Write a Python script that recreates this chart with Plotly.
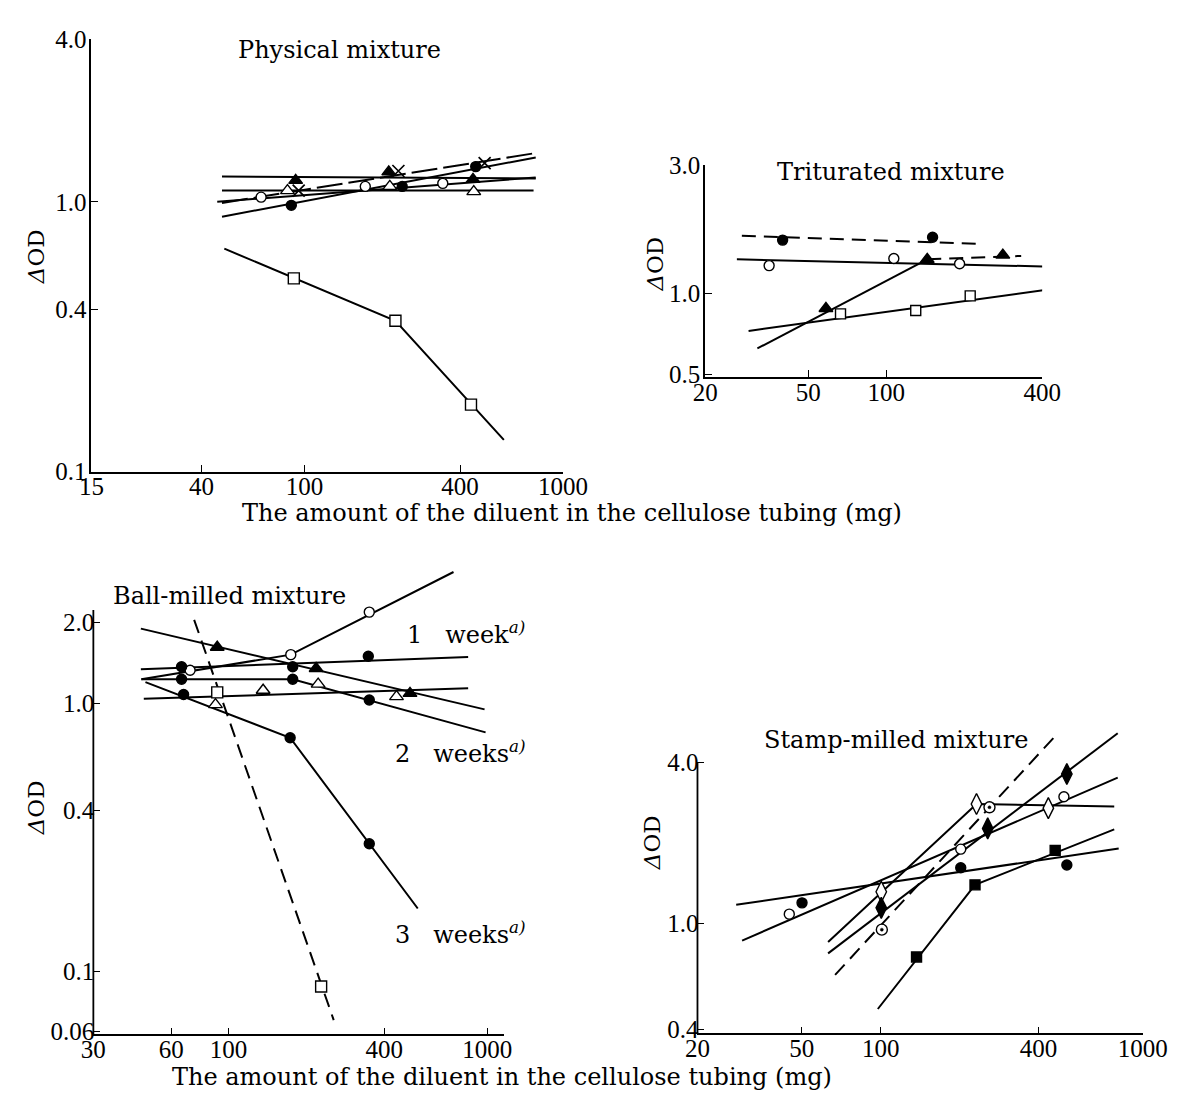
import math
import plotly.graph_objects as go

W, H = 1193, 1106
FONT = "DejaVu Serif"
TICKFONT = "Liberation Serif"

# ---------------- Physical mixture (top-left) ----------------
phys_tri_f_x = [92.5, 212, 449];  phys_tri_f_y = [1.20, 1.29, 1.21]
phys_tri_f_lx = [48, 785];         phys_tri_f_ly = [1.24, 1.22]
phys_tri_o_x = [86, 214, 452];    phys_tri_o_y = [1.10, 1.14, 1.09]
phys_tri_o_lx = [48, 770];         phys_tri_o_ly = [1.10, 1.10]
phys_cross_x = [95, 231, 498];    phys_cross_y = [1.10, 1.30, 1.39]
phys_cross_lx = [48, 800];         phys_cross_ly = [0.99, 1.52]
phys_circ_o_x = [68, 172, 343];   phys_circ_o_y = [1.04, 1.14, 1.17]
phys_circ_o_lx = [46, 785];        phys_circ_o_ly = [1.00, 1.23]
phys_circ_f_x = [89, 239, 460];   phys_circ_f_y = [0.97, 1.14, 1.35]
phys_circ_f_lx = [48, 785];        phys_circ_f_ly = [0.88, 1.46]
phys_sq_x = [91, 225, 441];       phys_sq_y = [0.52, 0.362, 0.177]
phys_sq_lx = [49, 225, 591];      phys_sq_ly = [0.67, 0.362, 0.131]

# ---------------- Triturated mixture (top-right) ----------------
trit_circ_f_x = [39.8, 151];      trit_circ_f_y = [1.58, 1.62]
trit_circ_f_lx = [27.7, 231];     trit_circ_f_ly = [1.64, 1.53]
trit_circ_o_x = [35.3, 107, 192]; trit_circ_o_y = [1.27, 1.35, 1.29]
trit_circ_o_lx = [26.5, 415];     trit_circ_o_ly = [1.34, 1.26]
trit_tri_f_x = [58.5, 144, 282];  trit_tri_f_y = [0.88, 1.34, 1.39]
trit_tri_f_lx = [31.8, 144];      trit_tri_f_ly = [0.625, 1.34]
trit_tri_f_dlx = [144, 332];      trit_tri_f_dly = [1.34, 1.38]
trit_sq_x = [66.6, 130, 211];     trit_sq_y = [0.84, 0.865, 0.98]
trit_sq_lx = [29.4, 408];         trit_sq_ly = [0.726, 1.03]

# ---------------- Ball-milled mixture (bottom-left) ----------------
ball_tri_f_x = [90.4, 218, 503];  ball_tri_f_y = [1.62, 1.35, 1.09]
ball_tri_f_lx = [45.8, 977];      ball_tri_f_ly = [1.90, 0.95]
ball_circ_o_x = [71, 174, 350];   ball_circ_o_y = [1.33, 1.52, 2.19]
ball_circ_o_lx = [46, 174, 741];  ball_circ_o_ly = [1.23, 1.52, 3.09]
ball_w1_x = [65.8, 177, 347];     ball_w1_y = [1.37, 1.37, 1.50]
ball_w1_lx = [45.8, 844];         ball_w1_ly = [1.34, 1.49]
ball_w2_x = [65.8, 177, 350];     ball_w2_y = [1.23, 1.23, 1.03]
ball_w2_lx = [46, 177, 986];      ball_w2_ly = [1.23, 1.23, 0.78]
ball_tri_o_x = [89, 136, 222, 446]; ball_tri_o_y = [0.99, 1.12, 1.18, 1.06]
ball_tri_o_lx = [47, 844];        ball_tri_o_ly = [1.04, 1.14]
ball_w3_x = [67, 173, 350];       ball_w3_y = [1.08, 0.745, 0.30]
ball_w3_lx = [47.7, 173, 539];    ball_w3_ly = [1.20, 0.745, 0.172]
ball_sq_x = [90.4, 228];          ball_sq_y = [1.10, 0.088]
ball_sq_lx = [73.6, 255];         ball_sq_ly = [2.05, 0.066]

# ---------------- Stamp-milled mixture (bottom-right) ----------------
stamp_circ_o_x = [44.8, 202, 500];  stamp_circ_o_y = [1.08, 1.89, 2.97]
stamp_circ_o_lx = [29.6, 802];      stamp_circ_o_ly = [0.86, 3.5]
stamp_circ_f_x = [50.1, 202, 513];  stamp_circ_f_y = [1.19, 1.61, 1.65]
stamp_circ_f_lx = [28.1, 809];      stamp_circ_f_ly = [1.17, 1.90]
stamp_dia_o_x = [100.5, 232, 436];  stamp_dia_o_y = [1.31, 2.79, 2.69]
stamp_dia_o_lx = [63, 232, 778];    stamp_dia_o_ly = [0.85, 2.79, 2.73]
stamp_dia_f_x = [100.5, 256, 513];  stamp_dia_f_y = [1.14, 2.26, 3.61]
stamp_dia_f_lx = [63, 802];         stamp_dia_f_ly = [0.77, 5.13]
stamp_dot_x = [101, 260];           stamp_dot_y = [0.945, 2.71]
stamp_dot_lx = [67, 468];           stamp_dot_ly = [0.64, 5.06]
stamp_sq_f_x = [137, 229, 463];     stamp_sq_f_y = [0.747, 1.39, 1.87]
stamp_sq_f_lx = [97.5, 229, 778];   stamp_sq_f_ly = [0.477, 1.39, 2.24]

# ---------------- tick labels ----------------
tl_xticks = [15, 40, 100, 400, 1000]
tl_yticks = [0.1, 0.4, 1.0, 4.0]
tr_xticks = [20, 50, 100, 400]
tr_yticks = [0.5, 1.0, 3.0]
bl_xticks = [30, 60, 100, 400, 1000]
bl_yticks = [0.06, 0.1, 0.4, 1.0, 2.0]
br_xticks = [20, 50, 100, 400, 1000]
br_yticks = [0.4, 1.0, 4.0]

fig = go.Figure()

def line(ax, xs, ys, dash="solid", width=2.0):
    fig.add_trace(go.Scatter(x=xs, y=ys, mode="lines", xaxis="x" + ax, yaxis="y" + ax,
                             line=dict(color="black", width=width, dash=dash),
                             showlegend=False, hoverinfo="skip"))

def pts(ax, xs, ys, symbol, fill, size=10, lw=1.4):
    fig.add_trace(go.Scatter(x=xs, y=ys, mode="markers", xaxis="x" + ax, yaxis="y" + ax,
                             marker=dict(symbol=symbol, color=fill, size=size,
                                         line=dict(color="black", width=lw)),
                             showlegend=False, cliponaxis=False))

LD = "26px,6px"
SD = "14px,8px"
A = ""
line(A, phys_tri_f_lx, phys_tri_f_ly)
line(A, phys_tri_o_lx, phys_tri_o_ly)
line(A, phys_cross_lx, phys_cross_ly, dash=LD)
line(A, phys_circ_o_lx, phys_circ_o_ly)
line(A, phys_circ_f_lx, phys_circ_f_ly)
line(A, phys_sq_lx, phys_sq_ly)
pts(A, phys_tri_f_x, phys_tri_f_y, "triangle-up", "black", 12)
pts(A, phys_tri_o_x, phys_tri_o_y, "triangle-up", "white", 12)
pts(A, phys_cross_x, phys_cross_y, "x-thin-open", "black", 12, 1.7)
pts(A, phys_circ_o_x, phys_circ_o_y, "circle", "white", 10)
pts(A, phys_circ_f_x, phys_circ_f_y, "circle", "black", 10)
pts(A, phys_sq_x, phys_sq_y, "square", "white", 11)

A = "2"
line(A, trit_circ_f_lx, trit_circ_f_ly, dash=SD)
line(A, trit_circ_o_lx, trit_circ_o_ly)
line(A, trit_tri_f_lx, trit_tri_f_ly)
line(A, trit_tri_f_dlx, trit_tri_f_dly, dash=SD)
line(A, trit_sq_lx, trit_sq_ly)
pts(A, trit_circ_f_x, trit_circ_f_y, "circle", "black", 10)
pts(A, trit_circ_o_x, trit_circ_o_y, "circle", "white", 10)
pts(A, trit_tri_f_x, trit_tri_f_y, "triangle-up", "black", 12)
pts(A, trit_sq_x, trit_sq_y, "square", "white", 10)

A = "3"
line(A, ball_tri_f_lx, ball_tri_f_ly)
line(A, ball_circ_o_lx, ball_circ_o_ly)
line(A, ball_w1_lx, ball_w1_ly)
line(A, ball_w2_lx, ball_w2_ly)
line(A, ball_tri_o_lx, ball_tri_o_ly)
line(A, ball_w3_lx, ball_w3_ly)
line(A, ball_sq_lx, ball_sq_ly, dash=SD)
pts(A, ball_tri_f_x, ball_tri_f_y, "triangle-up", "black", 12)
pts(A, ball_circ_o_x, ball_circ_o_y, "circle", "white", 10)
pts(A, ball_w1_x, ball_w1_y, "circle", "black", 10)
pts(A, ball_w2_x, ball_w2_y, "circle", "black", 10)
pts(A, ball_tri_o_x, ball_tri_o_y, "triangle-up", "white", 12)
pts(A, ball_w3_x, ball_w3_y, "circle", "black", 10)
pts(A, ball_sq_x, ball_sq_y, "square", "white", 11)

A = "4"
line(A, stamp_circ_o_lx, stamp_circ_o_ly)
line(A, stamp_circ_f_lx, stamp_circ_f_ly)
line(A, stamp_dia_o_lx, stamp_dia_o_ly)
line(A, stamp_dia_f_lx, stamp_dia_f_ly)
line(A, stamp_dot_lx, stamp_dot_ly, dash=SD)
line(A, stamp_sq_f_lx, stamp_sq_f_ly)
pts(A, stamp_circ_o_x, stamp_circ_o_y, "circle", "white", 10)
pts(A, stamp_circ_f_x, stamp_circ_f_y, "circle", "black", 10)
pts(A, stamp_dia_o_x, stamp_dia_o_y, "diamond-tall", "white", 15)
pts(A, stamp_dia_f_x, stamp_dia_f_y, "diamond-tall", "black", 15)
pts(A, stamp_dot_x, stamp_dot_y, "circle", "white", 11)
pts(A, stamp_dot_x, stamp_dot_y, "circle", "black", 3, 0.5)
pts(A, stamp_sq_f_x, stamp_sq_f_y, "square", "black", 10)

L = math.log10

def xax(dom_px, rng, ticks, anchor):
    return dict(type="log", domain=[dom_px[0] / W, dom_px[1] / W], range=rng,
                tickvals=ticks, ticktext=[str(t) for t in ticks], anchor=anchor,
                ticks="inside", ticklen=7, tickwidth=1.3, tickcolor="black",
                ticklabelstandoff=-8,
                showline=True, linecolor="black", linewidth=1.8,
                showgrid=False, zeroline=False,
                tickfont=dict(family=TICKFONT, size=25, color="black"))

def yax(dom_px, rng, ticks, anchor, labels, showline=True):
    return dict(type="log", domain=[1 - dom_px[1] / H, 1 - dom_px[0] / H], range=rng,
                tickvals=ticks, ticktext=labels, anchor=anchor,
                ticks="inside", ticklen=7, tickwidth=1.3, tickcolor="black",
                ticklabelstandoff=-2,
                showline=showline, linecolor="black", linewidth=1.8,
                showgrid=False, zeroline=False,
                tickfont=dict(family=TICKFONT, size=25, color="black"))

bl_yr = [-1.234, 0.519]
br_yr = [-0.413, 0.722]

def frac(v, r):
    return (L(v) - r[0]) / (r[1] - r[0])

shapes = [
    dict(type="line", xref="x3 domain", yref="y3 domain", x0=0, x1=0,
         y0=0, y1=frac(2.23, bl_yr), line=dict(color="black", width=1.8)),
    dict(type="line", xref="x4 domain", yref="y4 domain", x0=0, x1=0,
         y0=0, y1=frac(4.0, br_yr), line=dict(color="black", width=1.8)),
]

def ann(text, px, py, size=24, xanchor="center", angle=0):
    return dict(text=text, x=px / W, y=1 - py / H, xref="paper", yref="paper",
                showarrow=False, xanchor=xanchor, yanchor="middle", textangle=angle,
                font=dict(family=FONT, size=size, color="black"))

NB = "\u00a0"
XT = "The amount of the diluent in the cellulose tubing (mg)"
annotations = [
    ann("Physical" + NB + "mixture", 337, 38),
    ann("Triturated" + NB + "mixture", 907, 163),
    ann("Ball-milled" + NB + "mixture", 224, 598),
    ann("Stamp-milled" + NB + "mixture", 912, 745),
    ann("1" + NB * 3 + "week<sup><i>a)</i></sup>", 405, 636, xanchor="left"),
    ann("2" + NB * 3 + "weeks<sup><i>a)</i></sup>", 392, 757, xanchor="left"),
    ann("3" + NB * 3 + "weeks<sup><i>a)</i></sup>", 392, 943, xanchor="left"),
    ann(XT, 577, 513),
    ann(XT, 505, 1091),
    ann("<i>Δ</i>OD", 24, 250, size=23, angle=-90),
    ann("<i>Δ</i>OD", 663, 257, size=23, angle=-90),
    ann("<i>Δ</i>OD", 24, 815, size=23, angle=-90),
    ann("<i>Δ</i>OD", 660, 850, size=23, angle=-90),
]

fig.update_layout(
    width=W, height=H, margin=dict(l=0, r=0, t=0, b=0),
    paper_bgcolor="white", plot_bgcolor="white", showlegend=False,
    xaxis=xax([81, 568], [L(15), 3], tl_xticks, "y"),
    yaxis=yax([27, 470], [-1, L(4)], tl_yticks, "x", ["0.1", "0.4", "1.0", "4.0"]),
    xaxis2=xax([715, 1063], [L(20), L(400)], tr_xticks, "y2"),
    yaxis2=yax([156, 373], [L(0.49), L(3)], tr_yticks, "x2", ["0.5", "1.0", "3.0"]),
    xaxis3=xax([83, 507], [L(30), L(1160)], bl_xticks, "y3"),
    yaxis3=yax([565, 1047], bl_yr, bl_yticks, "x3", ["0.06", "0.1", "0.4", "1.0", "2.0"], showline=False),
    xaxis4=xax([707, 1167], [L(20), 3], br_xticks, "y4"),
    yaxis4=yax([735, 1046], br_yr, br_yticks, "x4", ["0.4", "1.0", "4.0"], showline=False),
    shapes=shapes, annotations=annotations,
)

fig.write_html("out.html")
